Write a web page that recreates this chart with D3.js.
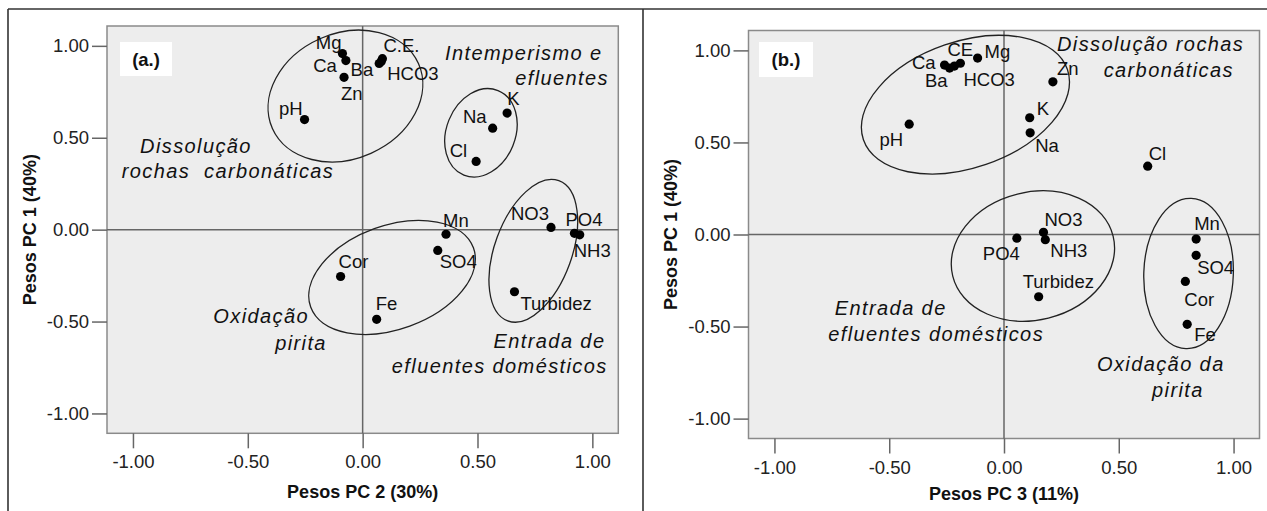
<!DOCTYPE html>
<html><head><meta charset="utf-8">
<script src="https://cdn.jsdelivr.net/npm/d3@7"></script>
<style>
body{margin:0;background:#fff;}
svg text{font-family:"Liberation Sans",Arial,sans-serif;}
</style></head><body>
<svg id="c" width="1267" height="511"></svg>
<script>
// ---------------- data ----------------
const variables = ["pH","Mg","Ca","Zn","Ba","C.E.","HCO3","Na","K","Cl","Mn","SO4","Cor","Fe","NO3","PO4","NH3","Turbidez"];
const labelsA   = ["pH","Mg","Ca","Zn","Ba","C.E.","HCO3","Na","K","Cl","Mn","SO4","Cor","Fe","NO3","PO4","NH3","Turbidez"];
const labelsB   = ["pH","Mg","Ca","Zn","Ba","CE","HCO3","Na","K","Cl","Mn","SO4","Cor","Fe","NO3","PO4","NH3","Turbidez"];
const pc1 = [0.599,0.958,0.920,0.829,0.904,0.930,0.915,0.552,0.634,0.371,-0.025,-0.113,-0.255,-0.488,0.012,-0.020,-0.028,-0.338];
const pc2 = [-0.253,-0.088,-0.073,-0.081,0.072,0.086,0.081,0.566,0.629,0.494,0.363,0.327,-0.096,0.061,0.820,0.922,0.945,0.661];
const pc3 = [-0.413,-0.115,-0.259,0.213,-0.237,-0.190,-0.216,0.114,0.112,0.626,0.837,0.837,0.790,0.798,0.172,0.056,0.180,0.151];
const tickValues = [-1.00,-0.50,0.00,0.50,1.00];
const axisTitles = ["Pesos PC 2 (30%)","Pesos PC 3 (11%)"];
const yTitle = "Pesos PC 1 (40%)";
const panelTags = ["(a.)","(b.)"];

// group annotations (data units)
const groupsA = [
  {cx:-0.075, cy:0.727, rx:0.348, ry:0.341, angle:-24},
  {cx:0.515, cy:0.527, rx:0.150, ry:0.248, angle:22},
  {cx:0.128, cy:-0.260, rx:0.377, ry:0.282, angle:-20},
  {cx:0.743, cy:-0.115, rx:0.168, ry:0.406, angle:20}
];
const groupsB = [
  {cx:-0.168, cy:0.705, rx:0.470, ry:0.343, angle:-19},
  {cx:0.126, cy:-0.117, rx:0.360, ry:0.347, angle:-14},
  {cx:0.804, cy:-0.212, rx:0.195, ry:0.408, angle:2}
];
const notesA = [
  {t:"Intemperismo e", x:0.359, y:0.923},
  {t:"efluentes", x:0.664, y:0.787},
  {t:"Dissolução", x:-0.969, y:0.417},
  {t:"rochas  carbonáticas", x:-1.049, y:0.281},
  {t:"Oxidação", x:-0.650, y:-0.508},
  {t:"pirita", x:-0.381, y:-0.655},
  {t:"Entrada de", x:0.570, y:-0.644},
  {t:"efluentes domésticos", x:0.127, y:-0.780}
];
const notesB = [
  {t:"Dissolução rochas", x:0.231, y:0.994},
  {t:"carbonáticas", x:0.434, y:0.856},
  {t:"Entrada de", x:-0.737, y:-0.437},
  {t:"efluentes domésticos", x:-0.766, y:-0.581},
  {t:"Oxidação da", x:0.405, y:-0.744},
  {t:"pirita", x:0.645, y:-0.880}
];

// label placement (px offsets from the point)
const offA = {
  "pH":[-2,-5,"end"],"Mg":[-1,-5,"end"],"Ca":[-9,11,"end"],"Zn":[-3,23,"start"],
  "Ba":[-6,13,"end"],"C.E.":[1,-7,"start"],"HCO3":[6,19,"start"],
  "Na":[-6,-5,"end"],"K":[0,-8,"start"],"Cl":[-9,-4,"end"],
  "Mn":[-3,-7,"start"],"SO4":[2,18,"start"],"Cor":[-2,-9,"start"],"Fe":[-1,-9,"start"],
  "NO3":[-2,-7,"end"],"PO4":[-9,-7,"start"],"NH3":[-6,22,"start"],"Turbidez":[6,18,"start"]
};
const offB = {
  "pH":[-6,22,"end"],"Mg":[7,0,"start"],"Ca":[-9,4,"end"],"Zn":[4,-7,"start"],
  "Ba":[-2,19,"end"],"CE":[-13,-7,"start"],"HCO3":[9,20,"start"],
  "Na":[5,19,"start"],"K":[7,-3,"start"],"Cl":[1,-6,"start"],
  "Mn":[-2,-9,"start"],"SO4":[1,19,"start"],"Cor":[-1,25,"start"],"Fe":[7,17,"start"],
  "NO3":[1,-6,"start"],"PO4":[3,22,"end"],"NH3":[5,17,"start"],"Turbidez":[-16,-9,"start"]
};

// ---------------- drawing ----------------
const svg = d3.select("#c");
svg.append("rect").attr("width",1267).attr("height",511).attr("fill","#fff");

// figure frame
const frame = svg.append("g").attr("stroke","#333").attr("stroke-width",1.6).attr("fill","none");
frame.append("line").attr("x1",8).attr("x2",1267).attr("y1",9).attr("y2",9);
frame.append("line").attr("x1",8).attr("x2",8).attr("y1",9).attr("y2",511);
frame.append("line").attr("x1",643).attr("x2",643).attr("y1",9).attr("y2",511);

const panels = [
  {x0:107, x1:618.3, y0:26, y1:433.3, xs:pc2, labels:labelsA, off:offA, groups:groupsA, notes:notesA,
   xTitle:axisTitles[0], tag:panelTags[0], tagBox:[120,42,52,34], ytx:35.5, xty:498},
  {x0:748.5, x1:1259.5, y0:30.5, y1:438.5, xs:pc3, labels:labelsB, off:offB, groups:groupsB, notes:notesB,
   xTitle:axisTitles[1], tag:panelTags[1], tagBox:[759,42,54,35], ytx:677, xty:500}
];

const fmt = d => d.toFixed(2);

panels.forEach(p => {
  const x = d3.scaleLinear().domain([-1.113,1.113]).range([p.x0,p.x1]);
  const y = d3.scaleLinear().domain([-1.108,1.108]).range([p.y1,p.y0]);
  const g = svg.append("g");

  g.append("rect").attr("x",p.x0).attr("y",p.y0).attr("width",p.x1-p.x0).attr("height",p.y1-p.y0)
    .attr("fill","#ededed").attr("stroke","#8a8a8a").attr("stroke-width",1.5);

  // reference lines
  g.append("line").attr("x1",x(0)).attr("x2",x(0)).attr("y1",p.y0).attr("y2",p.y1)
    .attr("stroke","#666").attr("stroke-width",1.5);
  g.append("line").attr("x1",p.x0).attr("x2",p.x1).attr("y1",y(0)).attr("y2",y(0))
    .attr("stroke","#666").attr("stroke-width",1.5);

  // axes
  const ya = g.append("g").attr("transform",`translate(${p.x0},0)`)
    .call(d3.axisLeft(y).tickValues(tickValues).tickFormat(fmt).tickSize(15).tickPadding(3));
  const xa = g.append("g").attr("transform",`translate(0,${p.y1})`)
    .call(d3.axisBottom(x).tickValues(tickValues).tickFormat(fmt).tickSize(15).tickPadding(7));
  [ya,xa].forEach(a => {
    a.select(".domain").remove();
    a.selectAll(".tick line").attr("stroke","#666").attr("stroke-width",1.5);
    a.selectAll(".tick text").attr("fill","#222").style("font-size","18.5px")
      .style("font-family",'"Liberation Sans",Arial,sans-serif');
  });

  // axis titles
  g.append("text").attr("x",(p.x0+p.x1)/2).attr("y",p.xty).attr("text-anchor","middle")
    .style("font-weight","bold").style("font-size","18px").attr("fill","#111").text(p.xTitle);
  g.append("text").attr("transform",`translate(${p.ytx},${(p.y0+p.y1)/2}) rotate(-90)`)
    .attr("text-anchor","middle").style("font-weight","bold").style("font-size","18px")
    .attr("fill","#111").text(yTitle);

  // tag box
  g.append("rect").attr("x",p.tagBox[0]).attr("y",p.tagBox[1]).attr("width",p.tagBox[2]).attr("height",p.tagBox[3])
    .attr("fill","#fff");
  g.append("text").attr("x",p.tagBox[0]+p.tagBox[2]/2).attr("y",p.tagBox[1]+p.tagBox[3]/2+6.5)
    .attr("text-anchor","middle").style("font-weight","bold").style("font-size","18.5px").attr("fill","#111").text(p.tag);

  // group ellipses
  const kx = x(1)-x(0), ky = y(0)-y(1);
  g.selectAll("ellipse.grp").data(p.groups).enter().append("ellipse").attr("class","grp")
    .attr("transform",d=>`translate(${x(d.cx)},${y(d.cy)}) rotate(${d.angle})`)
    .attr("rx",d=>d.rx*kx).attr("ry",d=>d.ry*ky)
    .attr("fill","none").attr("stroke","#222").attr("stroke-width",1.3);

  // notes
  g.selectAll("text.note").data(p.notes).enter().append("text").attr("class","note")
    .attr("x",d=>x(d.x)).attr("y",d=>y(d.y))
    .style("font-style","italic").style("font-size","20px").style("letter-spacing","1.4px")
    .style("white-space","pre").attr("fill","#111").text(d=>d.t);

  // points
  const pts = variables.map((v,i)=>({name:p.labels[i], px:p.xs[i], py:pc1[i]}));
  g.selectAll("circle.pt").data(pts).enter().append("circle").attr("class","pt")
    .attr("cx",d=>x(d.px)).attr("cy",d=>y(d.py)).attr("r",4.6).attr("fill","#000");
  g.selectAll("text.lbl").data(pts).enter().append("text").attr("class","lbl")
    .attr("x",d=>x(d.px)+p.off[d.name][0]).attr("y",d=>y(d.py)+p.off[d.name][1])
    .attr("text-anchor",d=>p.off[d.name][2])
    .style("font-size","18.5px").attr("fill","#111").text(d=>d.name);
});
</script>
</body></html>
